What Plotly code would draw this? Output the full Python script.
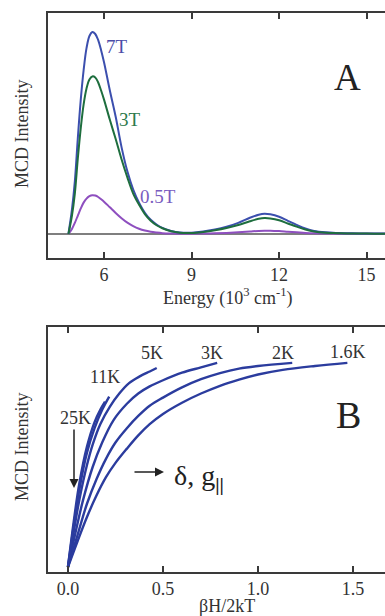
import plotly.graph_objects as go

# ---------------- Panel A data: MCD spectra ----------------
energy = [4.78, 4.9, 5.0, 5.1, 5.2, 5.3, 5.4, 5.5, 5.6, 5.7, 5.8, 5.9, 6.0, 6.2, 6.4, 6.6,
          6.8, 7.0, 7.2, 7.4, 7.6, 7.8, 8.0, 8.3, 8.6, 9.0, 9.4, 9.8, 10.2, 10.6, 11.0,
          11.3, 11.5, 11.7, 12.0, 12.3, 12.6, 12.9, 13.2, 13.6, 14.0, 14.5, 15.0, 15.5, 16.0]
mcd_7T = [0.0, 0.12, 0.26, 0.47, 0.66, 0.81, 0.92, 0.98, 1.0, 0.99, 0.96, 0.91, 0.85, 0.71,
          0.58, 0.43, 0.31, 0.22, 0.155, 0.105, 0.07, 0.047, 0.03, 0.015, 0.007, 0.006, 0.012,
          0.022, 0.036, 0.055, 0.08, 0.095, 0.1, 0.097, 0.085, 0.065, 0.045, 0.027, 0.015,
          0.008, 0.005, 0.003, 0.002, 0.002, 0.001]
mcd_3T = [0.0, 0.09, 0.2, 0.37, 0.52, 0.64, 0.72, 0.765, 0.78, 0.775, 0.75, 0.71, 0.665,
          0.565, 0.47, 0.37, 0.28, 0.2, 0.145, 0.098, 0.065, 0.043, 0.028, 0.013, 0.006,
          0.005, 0.01, 0.018, 0.029, 0.044, 0.063, 0.075, 0.079, 0.077, 0.068, 0.052, 0.036,
          0.022, 0.012, 0.006, 0.004, 0.002, 0.002, 0.001, 0.001]
mcd_05T = [0.0, 0.025, 0.055, 0.09, 0.125, 0.155, 0.175, 0.187, 0.192, 0.19, 0.183, 0.172,
           0.16, 0.132, 0.104, 0.078, 0.056, 0.039, 0.026, 0.017, 0.011, 0.007, 0.004, 0.002,
           0.001, 0.001, 0.002, 0.003, 0.005, 0.008, 0.012, 0.015, 0.016, 0.016, 0.014, 0.011,
           0.008, 0.005, 0.003, 0.002, 0.001, 0.001, 0.001, 0.001, 0.001]
energy_ticks = [6, 9, 12, 15]

# ---------------- Panel B data: VTVH saturation curves ----------------
x_16K = [0.0, 0.05, 0.1, 0.15, 0.2, 0.25, 0.31, 0.37, 0.43, 0.5, 0.6, 0.7, 0.8, 0.9, 1.0, 1.13, 1.3, 1.47]
y_16K = [0.0, 0.125, 0.245, 0.35, 0.44, 0.51, 0.58, 0.645, 0.70, 0.75, 0.805, 0.85, 0.888, 0.918, 0.943, 0.966, 0.985, 1.0]
x_2K = [0.0, 0.05, 0.1, 0.15, 0.2, 0.25, 0.31, 0.37, 0.43, 0.5, 0.6, 0.7, 0.8, 0.9, 1.0, 1.18]
y_2K = [0.0, 0.155, 0.31, 0.43, 0.53, 0.61, 0.68, 0.74, 0.79, 0.83, 0.88, 0.92, 0.95, 0.972, 0.985, 1.0]
x_3K = [0.0, 0.04, 0.08, 0.13, 0.18, 0.24, 0.31, 0.37, 0.43, 0.5, 0.6, 0.7, 0.785]
y_3K = [0.0, 0.17, 0.33, 0.49, 0.61, 0.72, 0.8, 0.85, 0.885, 0.915, 0.952, 0.978, 1.0]
x_5K = [0.0, 0.03, 0.06, 0.1, 0.13, 0.17, 0.22, 0.27, 0.32, 0.38, 0.43, 0.467]
y_5K = [0.0, 0.17, 0.33, 0.5, 0.6, 0.7, 0.785, 0.85, 0.9, 0.935, 0.958, 0.975]
x_11K = [0.0, 0.03, 0.06, 0.1, 0.14, 0.18, 0.217]
y_11K = [0.0, 0.2, 0.38, 0.56, 0.68, 0.77, 0.835]
x_25K = [0.0, 0.03, 0.06, 0.1, 0.14, 0.17, 0.195]
y_25K = [0.0, 0.22, 0.41, 0.59, 0.71, 0.77, 0.81]
bh_ticks = [0.0, 0.5, 1.0, 1.5]
bh_tick_text = ["0.0", "0.5", "1.0", "1.5"]

SERIF = "Liberation Serif, Times New Roman, serif"
AX = "#3a3a3a"
TXT = "#333333"

fig = go.Figure()

# Panel A
fig.add_trace(go.Scatter(x=[4.0, 16.0], y=[0, 0], mode="lines",
                         line=dict(color="#555555", width=1.5), xaxis="x", yaxis="y",
                         hoverinfo="skip"))
fig.add_trace(go.Scatter(x=energy, y=mcd_05T, mode="lines", line=dict(color="#8e4fbf", width=2, shape="spline"),
                         xaxis="x", yaxis="y", name="0.5T"))
fig.add_trace(go.Scatter(x=energy, y=mcd_7T, mode="lines", line=dict(color="#3c4fae", width=2, shape="spline"),
                         xaxis="x", yaxis="y", name="7T"))
fig.add_trace(go.Scatter(x=energy, y=mcd_3T, mode="lines", line=dict(color="#1e6e3e", width=2, shape="spline"),
                         xaxis="x", yaxis="y", name="3T"))

# Panel B
for xs, ys, nm in [(x_16K, y_16K, "1.6K"), (x_2K, y_2K, "2K"), (x_3K, y_3K, "3K"),
                   (x_5K, y_5K, "5K"), (x_11K, y_11K, "11K"), (x_25K, y_25K, "25K")]:
    fig.add_trace(go.Scatter(x=xs, y=ys, mode="lines",
                             line=dict(color="#2b3c9e", width=2.4, shape="spline", smoothing=1.0),
                             xaxis="x2", yaxis="y2", name=nm))

axis_common = dict(showline=True, linecolor=AX, linewidth=1.5, showgrid=False, zeroline=False)

fig.update_layout(
    width=385, height=616,
    margin=dict(l=48, r=0, t=0, b=0),
    paper_bgcolor="white", plot_bgcolor="white",
    showlegend=False,
    font=dict(family=SERIF, size=18, color=TXT),
    xaxis=dict(domain=[0, 1], anchor="y", range=[4.08, 15.63], tickvals=energy_ticks,
               ticks="inside", ticklen=6, tickwidth=1.5, tickcolor=AX, mirror="allticks",
               tickfont=dict(family=SERIF, size=18, color=TXT), **axis_common),
    yaxis=dict(domain=[0.5812, 0.9789], anchor="x", range=[-0.119, 1.094],
               showticklabels=False, ticks="", **axis_common),
    xaxis2=dict(domain=[0, 1], anchor="y2", range=[-0.105, 1.668], tickvals=bh_ticks,
                ticktext=bh_tick_text,
                ticks="inside", ticklen=6, tickwidth=1.5, tickcolor=AX, mirror="allticks",
                tickfont=dict(family=SERIF, size=18, color=TXT), **axis_common),
    yaxis2=dict(domain=[0.0714, 0.4692], anchor="x2", range=[-0.0245, 1.176],
                showticklabels=False, ticks="", **axis_common),
)

def pann(text, px, py, size=18, color=TXT, angle=0):
    fig.add_annotation(text=text, xref="paper", yref="paper",
                       x=(px - 48) / 337, y=1 - py / 616, showarrow=False,
                       xanchor="center", yanchor="middle", textangle=angle,
                       font=dict(family=SERIF, size=size, color=color))

# Axis titles
pann("MCD Intensity", 22, 134, angle=-90)
pann("MCD Intensity", 22, 447, angle=-90)
pann("Energy (10<sup>3</sup> cm<sup>-1</sup>)", 227, 297)
pann("βH/2kT", 227, 606)

# Panel A labels
pann("7T", 117, 46, size=19, color="#4b4ca8")
pann("3T", 130, 120, size=19, color="#2d7a4c")
pann("0.5T", 158, 197, size=19, color="#7a5cc0")
pann("A", 347, 77, size=37, color="#222222")

# Panel B labels
pann("5K", 152, 353)
pann("3K", 212, 353)
pann("2K", 283, 353)
pann("1.6K", 348, 352)
pann("11K", 105, 377)
pann("25K", 75, 418)
pann("B", 348, 415, size=38, color="#222222")
pann("δ, g<sub><b>||</b></sub>", 199, 477, size=28, color="#222222")

# arrows
fig.add_annotation(xref="paper", yref="paper", axref="pixel", ayref="pixel",
                   x=(164 - 48) / 337, y=1 - 472 / 616, ax=-31, ay=0,
                   text="", showarrow=True, arrowhead=2, arrowsize=1.2, arrowwidth=1.5,
                   arrowcolor="#222222")
fig.add_annotation(xref="paper", yref="paper", axref="pixel", ayref="pixel",
                   x=(74 - 48) / 337, y=1 - 488 / 616, ax=0, ay=-60,
                   text="", showarrow=True, arrowhead=2, arrowsize=1.2, arrowwidth=1.5,
                   arrowcolor="#222222")

fig.write_html("out.html", config={"displayModeBar": False},
               post_script="document.body.style.margin='0';document.body.style.overflow='hidden';")
